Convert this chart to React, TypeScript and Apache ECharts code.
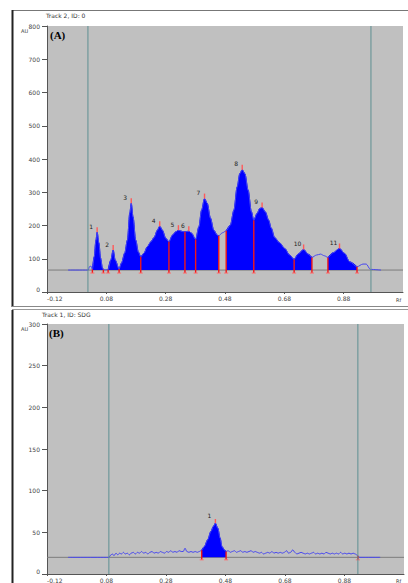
import React, { useEffect, useRef } from "react";
import * as echarts from "echarts";

// ---- shared axis ticks (Rf) ----
const xTickValues = [-0.12, 0.08, 0.28, 0.48, 0.68, 0.88];

// ---- Track A (Track 2) ----
const trackARf = [
  -0.049, 0.019, 0.023, 0.028, 0.033, 0.039, 0.045, 0.049, 0.055, 0.0605, 0.067, 0.07,
  0.086, 0.095, 0.103, 0.11, 0.123, 0.131, 0.142, 0.151, 0.159, 0.164, 0.17, 0.179,
  0.188, 0.196, 0.207, 0.218, 0.23, 0.241, 0.252, 0.26, 0.269, 0.28, 0.291, 0.303,
  0.314, 0.323, 0.336, 0.345, 0.358, 0.367, 0.381, 0.392, 0.401, 0.411, 0.42, 0.431,
  0.442, 0.454, 0.459, 0.471, 0.484, 0.498, 0.51, 0.521, 0.53, 0.538, 0.547, 0.558,
  0.569, 0.577, 0.588, 0.597, 0.605, 0.616, 0.627, 0.636, 0.647, 0.664, 0.681, 0.698,
  0.713, 0.726, 0.745, 0.76, 0.773, 0.788, 0.802, 0.815, 0.827, 0.844, 0.866, 0.883,
  0.9, 0.925, 0.945, 0.956, 0.97, 1.006,
];
const trackAAu = [
  66, 66, 76, 78, 68, 105, 156, 180, 147, 102, 72, 67,
  67, 96, 126, 96, 69, 87, 117, 156, 237, 267, 226, 156,
  120, 106, 117, 136, 151, 164, 186, 198, 186, 162, 151, 171,
  181, 186, 182, 181, 183, 177, 158, 196, 246, 281, 267, 222,
  186, 171, 169, 178, 184, 201, 246, 316, 356, 368, 356, 306,
  241, 216, 236, 251, 254, 241, 216, 192, 164, 148, 131, 111,
  98, 114, 128, 114, 104, 111, 114, 109, 104, 118, 131, 116,
  91, 76, 84, 84, 68, 66,
];
const trackABaseline = 66;
const trackAFillRanges = [[0.033, 0.07], [0.086, 0.459], [0.484, 0.773], [0.827, 0.925]];
const trackABounds = [0.033, 0.07, 0.086, 0.123, 0.196, 0.291, 0.345, 0.381, 0.459, 0.484, 0.577, 0.713, 0.773, 0.827, 0.925];
const trackAPeakRf = [0.049, 0.103, 0.164, 0.26, 0.323, 0.358, 0.411, 0.538, 0.605, 0.745, 0.866];
const trackAPeakNames = ["1", "2", "3", "4", "5", "6", "7", "8", "9", "10", "11"];
const trackAStartFront = [0.018, 0.972];

// ---- Track B (Track 1, SDG) ----
const trackBRf = [
  -0.049, 0.088, 0.095, 0.1, 0.105, 0.112, 0.118, 0.124, 0.13, 0.137, 0.143, 0.15,
  0.157, 0.163, 0.17, 0.177, 0.184, 0.191, 0.198, 0.205, 0.212, 0.219, 0.226, 0.233,
  0.24, 0.247, 0.254, 0.261, 0.268, 0.275, 0.282, 0.289, 0.296, 0.303, 0.31, 0.317,
  0.324, 0.331, 0.338, 0.344, 0.35, 0.357, 0.364, 0.371, 0.378, 0.385, 0.392, 0.4,
  0.409, 0.42, 0.431, 0.439, 0.446, 0.454, 0.462, 0.468, 0.476, 0.482,
  0.489, 0.496, 0.503, 0.51, 0.517, 0.524, 0.531, 0.538, 0.545, 0.552, 0.559, 0.566,
  0.573, 0.58, 0.587, 0.594, 0.601, 0.608, 0.615, 0.622, 0.629, 0.636, 0.643, 0.65,
  0.657, 0.664, 0.671, 0.678, 0.685, 0.692, 0.699, 0.706, 0.713, 0.72, 0.727, 0.734,
  0.741, 0.748, 0.755, 0.762, 0.769, 0.776, 0.783, 0.79, 0.797, 0.804, 0.811, 0.818,
  0.825, 0.832, 0.839, 0.846, 0.853, 0.86, 0.867, 0.874, 0.881, 0.888, 0.895, 0.902,
  0.909, 0.916, 0.925, 0.93, 1.0,
];
const trackBAu = [
  20, 20, 23, 24, 22, 25, 23, 25, 24, 26, 24, 25,
  23, 25, 26, 24, 26, 25, 27, 25, 26, 24, 26, 27,
  25, 26, 25, 27, 26, 25, 27, 26, 28, 26, 27, 26,
  28, 27, 27, 31, 27, 26, 27, 26, 27, 26, 27, 28.6,
  33, 41, 51, 57, 61, 55, 43, 33, 29, 27,
  28, 26, 27, 28, 26, 27, 28, 26, 27, 26, 27, 28,
  26, 27, 26, 25, 26, 24, 25, 26, 25, 27, 25, 26,
  25, 26, 25, 26, 28, 25, 26, 29, 26, 24, 25, 26,
  25, 24, 25, 24, 25, 26, 24, 25, 24, 25, 24, 26,
  25, 24, 25, 24, 25, 24, 26, 24, 25, 24, 25, 24,
  25, 24, 22, 20, 20,
];
const trackBBaseline = 20;
const trackBFillRanges = [[0.4, 0.482]];
const trackBBounds = [0.4, 0.482, 0.925];
const trackBPeakRf = [0.446];
const trackBPeakNames = ["1"];
const trackBStartFront = [0.088, 0.925];

// ---- helpers ----
const pairs = (xs: number[], ys: number[]) => xs.map((x, i) => [x, ys[i]]);
const interp = (xs: number[], ys: number[], x: number) => {
  for (let i = 0; i < xs.length - 1; i++) {
    if (x >= xs[i] && x <= xs[i + 1]) {
      const t = (x - xs[i]) / (xs[i + 1] - xs[i] || 1);
      return ys[i] + t * (ys[i + 1] - ys[i]);
    }
  }
  return ys[ys.length - 1];
};

function buildTrack(
  idx: number,
  rf: number[],
  au: number[],
  baseline: number,
  fills: number[][],
  bounds: number[],
  peaks: number[],
  names: string[],
  frontLines: number[],
  footDepth: number,
  tickH: number,
  labelOff: number[]
) {
  const series: any[] = [];
  const ax = { xAxisIndex: idx, yAxisIndex: idx };
  series.push({
    type: "line", ...ax, data: [[-0.12, baseline], [1.08, baseline]], symbol: "none",
    lineStyle: { color: "#7c7c7c", width: 1 }, z: 1, silent: true,
  });
  fills.forEach(([a, b]) => {
    series.push({
      type: "line", ...ax,
      data: pairs(rf, au).filter((p) => p[0] >= a - 1e-9 && p[0] <= b + 1e-9),
      symbol: "none", smooth: 0.3, smoothMonotone: "x",
      lineStyle: { color: "#0000ff", width: 1 },
      areaStyle: { color: "#0000ff", opacity: 1, origin: baseline },
      z: 2, silent: true,
    });
  });
  series.push({
    type: "line", ...ax, data: pairs(rf, au), symbol: "none", smooth: 0.3, smoothMonotone: "x",
    lineStyle: { color: "#4646f0", width: 1 }, z: 3, silent: true,
  });
  // red boundary lines + peak ticks
  const markData: any[] = [];
  bounds.forEach((b) => markData.push([b, interp(rf, au, b), baseline - footDepth, 1]));
  peaks.forEach((p) => {
    const v = interp(rf, au, p);
    markData.push([p, v, v + tickH, 0]);
  });
  series.push({
    type: "custom", ...ax, data: markData, z: 4, silent: true, clip: false,
    renderItem: (params: any, api: any) => {
      const x = api.value(0);
      const p1 = api.coord([x, api.value(1)]);
      const p2 = api.coord([x, api.value(2)]);
      const kind = api.value(3);
      const children: any[] = [
        { type: "line", shape: { x1: p1[0], y1: p1[1], x2: p2[0], y2: p2[1] },
          style: { stroke: kind === 1 ? "#f01818" : "#ff5a5a", lineWidth: 1.4 } },
      ];
      if (kind === 1) {
        children.push({ type: "line", shape: { x1: p2[0] - 2, y1: p2[1], x2: p2[0] + 2, y2: p2[1] },
          style: { stroke: "#ff6a6a", lineWidth: 1 } });
      }
      return { type: "group", children };
    },
  });
  // start / front vertical lines
  series.push({
    type: "custom", ...ax, data: frontLines.map((f) => [f, 0]), z: 5, silent: true,
    renderItem: (params: any, api: any) => {
      const cs = params.coordSys;
      const p = api.coord([api.value(0), 0]);
      return { type: "line", shape: { x1: p[0], y1: cs.y, x2: p[0], y2: cs.y + cs.height },
        style: { stroke: "#5e8f92", lineWidth: 1 } };
    },
  });
  // peak numbers
  series.push({
    type: "custom", ...ax, data: peaks.map((p, i) => [p, interp(rf, au, p), i]), z: 6, silent: true,
    renderItem: (params: any, api: any) => {
      const p = api.coord([api.value(0), api.value(1)]);
      return { type: "text", x: p[0] + labelOff[0], y: p[1] + labelOff[1],
        style: { text: names[api.value(2)], fontSize: 6, fill: "#222", align: "center",
          verticalAlign: "middle", fontFamily: "DejaVu Sans" } };
    },
  });
  return series;
}

const xAxisFor = (gridIndex: number) => ({
  type: "value", gridIndex, min: -0.12, max: 1.08,
  axisLine: { show: true, onZero: false, lineStyle: { color: "#555", width: 1 } },
  axisTick: { show: true, customValues: xTickValues, length: 2, lineStyle: { color: "#555" } },
  axisLabel: { show: true, customValues: xTickValues, formatter: (v: number) => v.toFixed(2),
    fontSize: 6, color: "#444", margin: 3, fontFamily: "DejaVu Sans", alignMinLabel: "left" },
  splitLine: { show: false },
});
const yAxisFor = (gridIndex: number, max: number, interval: number) => ({
  type: "value", gridIndex, min: 0, max, interval,
  axisLine: { show: true, onZero: false, lineStyle: { color: "#555", width: 1 } },
  axisTick: { show: true, inside: false, length: 5, lineStyle: { color: "#555" } },
  axisLabel: { fontSize: 6, color: "#444", margin: 7, fontFamily: "DejaVu Sans", verticalAlignMinLabel: "bottom" },
  splitLine: { show: false },
});

export default function App() {
  const ref = useRef<HTMLDivElement>(null);
  useEffect(() => {
    document.body.style.margin = "0";
    const chart = echarts.init(ref.current!, undefined, { renderer: "svg" });
    const txt = (text: string, x: number, y: number, size: number, extra: any = {}) => ({
      type: "text", x, y, silent: true,
      style: { text, fontSize: size, fill: "#333", fontFamily: "DejaVu Sans", ...extra },
    });
    const ln = (x1: number, y1: number, x2: number, y2: number, stroke: string, w: number) => ({
      type: "line", silent: true, shape: { x1, y1, x2, y2 }, style: { stroke, lineWidth: w },
    });
    chart.setOption({
      animation: false,
      backgroundColor: "#ffffff",
      grid: [
        { left: 47, top: 26, width: 356, height: 266, show: true, backgroundColor: "#c0c0c0", borderWidth: 0 },
        { left: 47, top: 324, width: 357, height: 252, show: true, backgroundColor: "#c0c0c0", borderWidth: 0 },
      ],
      xAxis: [xAxisFor(0), xAxisFor(1)],
      yAxis: [yAxisFor(0, 800, 100), yAxisFor(1, 300, 50)],
      series: [
        ...buildTrack(0, trackARf, trackAAu, trackABaseline, trackAFillRanges, trackABounds,
          trackAPeakRf, trackAPeakNames, trackAStartFront, 9, 15, [-6, -6]),
        ...buildTrack(1, trackBRf, trackBAu, trackBBaseline, trackBFillRanges, trackBBounds,
          trackBPeakRf, trackBPeakNames, trackBStartFront, 3, 5, [-6, -8]),
      ],
      graphic: [
        ln(12, 10.5, 408, 10.5, "#777", 1),
        ln(12.5, 10, 12.5, 307, "#222", 2),
        ln(12, 306.5, 408, 306.5, "#888", 1),
        ln(12, 309.5, 408, 309.5, "#999", 1),
        ln(12.5, 310, 12.5, 583, "#222", 2),
        txt("Track 2, ID: 0", 46, 12, 6),
        txt("AU", 21, 28, 5),
        txt("(A)", 50, 29, 11, { fontFamily: "Liberation Serif", fontWeight: "bold", fill: "#000" }),
        txt("Rf", 396, 297, 5),
        txt("Track 1, ID: SDG", 42, 311, 6),
        txt("AU", 21, 326, 5),
        txt("(B)", 49, 327, 11, { fontFamily: "Liberation Serif", fontWeight: "bold", fill: "#000" }),
        txt("Rf", 396, 578, 5),
      ],
    });
    return () => chart.dispose();
  }, []);
  return <div ref={ref} style={{ position: "absolute", left: 0, top: 0, width: 408, height: 583 }} />;
}
